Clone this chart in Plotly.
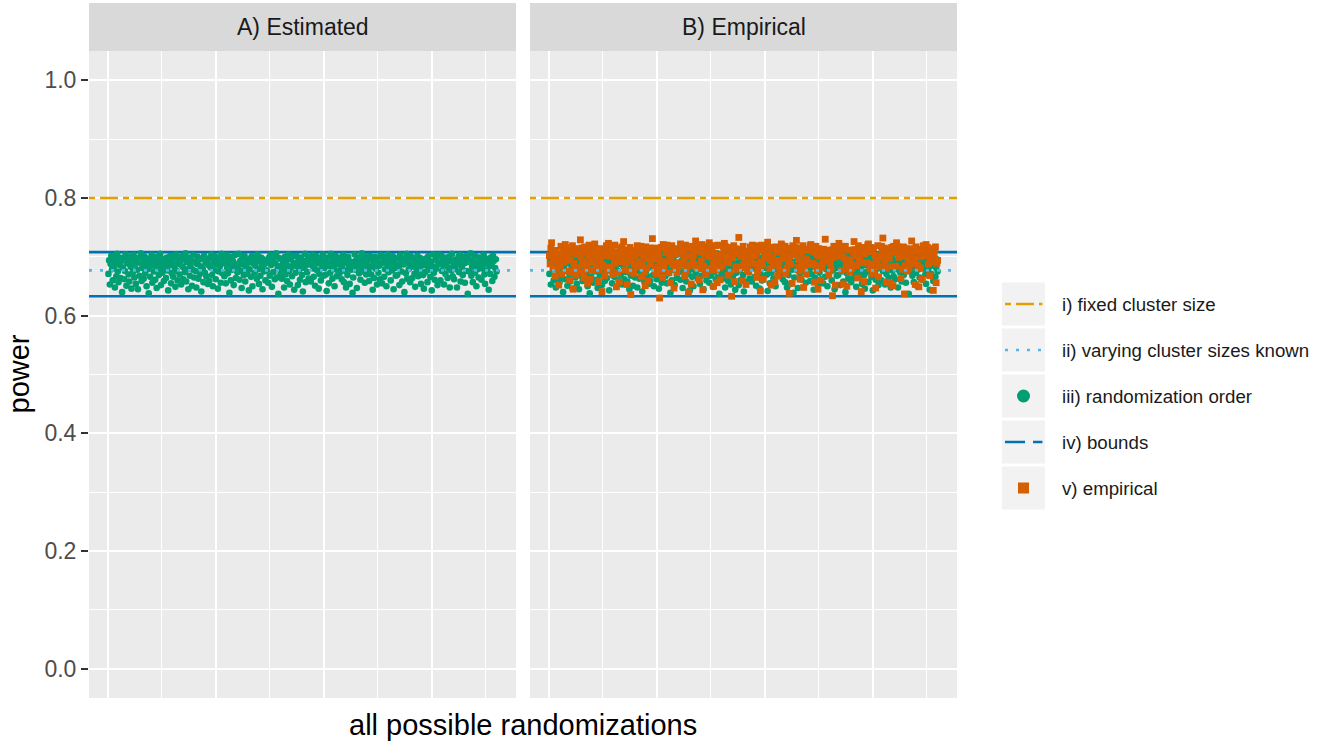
import plotly.graph_objects as go

W, H = 1332, 744

# ------------------------------------------------------------------ data
# estimated power for each possible randomization
estimated_power = [
    0.671,0.694,0.653,0.688,0.702,0.679,0.660,0.697,0.684,0.648,0.691,0.667,0.705,0.675,0.657,0.699,0.686,0.664,0.693,0.640,
    0.682,0.699,0.662,0.676,0.704,0.651,0.689,0.695,0.670,0.658,0.700,0.683,0.646,0.692,0.674,0.703,0.665,0.687,0.654,0.696,
    0.678,0.645,0.698,0.668,0.690,0.706,0.659,0.681,0.694,0.663,0.701,0.672,0.687,0.650,0.697,0.679,0.638,0.693,0.666,0.685,
    0.703,0.656,0.689,0.675,0.697,0.661,0.684,0.647,0.700,0.692,0.669,0.680,0.705,0.652,0.688,0.673,0.696,0.659,0.682,0.691,
    0.664,0.699,0.677,0.643,0.694,0.686,0.702,0.655,0.672,0.690,0.666,0.698,0.681,0.649,0.704,0.676,0.660,0.689,0.695,0.670,
    0.687,0.653,0.701,0.683,0.662,0.696,0.674,0.706,0.658,0.691,0.679,0.645,0.699,0.668,0.685,0.693,0.651,0.678,0.703,0.665,
    0.692,0.676,0.648,0.688,0.700,0.663,0.695,0.671,0.684,0.641,0.697,0.680,0.657,0.702,0.673,0.690,0.667,0.694,0.654,0.686,
    0.659,0.698,0.682,0.704,0.669,0.650,0.691,0.677,0.701,0.662,0.687,0.694,0.646,0.675,0.699,0.684,0.656,0.705,0.672,0.690,
    0.697,0.667,0.689,0.655,0.703,0.681,0.672,0.696,0.639,0.686,0.660,0.700,0.678,0.693,0.652,0.688,0.703,0.664,0.683,0.674,
    0.684,0.705,0.661,0.693,0.676,0.647,0.698,0.687,0.669,0.702,0.658,0.681,0.695,0.671,0.690,0.643,0.679,0.697,0.666,0.701,
    0.650,0.689,0.700,0.673,0.685,0.695,0.663,0.704,0.679,0.654,0.692,0.668,0.699,0.683,0.645,0.696,0.675,0.688,0.660,0.694,
    0.677,0.691,0.656,0.699,0.668,0.703,0.686,0.649,0.694,0.674,0.701,0.662,0.689,0.706,0.665,0.680,0.637,0.698,0.684,0.671,
    0.696,0.663,0.687,0.679,0.648,0.700,0.670,0.692,0.659,0.685,0.704,0.676,0.653,0.697,0.682,0.667,0.701,0.690,0.644,0.688,
    0.673,0.702,0.684,0.652,0.695,0.678,0.661,0.699,0.688,0.669,0.641,0.693,0.681,0.705,0.657,0.686,0.674,0.697,0.663,0.700,
    0.690,0.658,0.697,0.685,0.703,0.666,0.680,0.651,0.694,0.701,0.677,0.689,0.646,0.671,0.698,0.660,0.692,0.683,0.704,0.668,
    0.681,0.694,0.670,0.642,0.688,0.699,0.655,0.684,0.673,0.705,0.690,0.663,0.696,0.679,0.650,0.702,0.687,0.667,0.693,0.676,
    0.699,0.672,0.686,0.697,0.662,0.680,0.703,0.657,0.690,0.676,0.648,0.695,0.669,0.700,0.684,0.654,0.692,0.678,0.688,0.639,
    0.665,0.688,0.704,0.678,0.694,0.647,0.686,0.699,0.672,0.691,0.661,0.682,0.706,0.675,0.696,0.689,0.656,0.701,0.670,0.684,
    0.693,0.677,0.659,0.702,0.683,0.670,0.696,0.644,0.687,0.664,0.700,0.680,0.692,0.653,0.698,0.673,0.685,0.662,0.703,0.689,
    0.655,0.700,0.691,0.666,0.679,0.695,0.650,0.688,0.704,0.674,0.683,0.697,0.660,0.690,0.677,0.701,0.645,0.694,0.681,0.668,
    0.686,0.669,0.698,0.682,0.652,0.703,0.691,0.675,0.658,0.697,0.687,0.640,0.694,0.672,0.705,0.663,0.689,0.679,0.699,0.657,
    0.701,0.683,0.664,0.696,0.688,0.671,0.649,0.692,0.680,0.702,0.667,0.690,0.677,0.698,0.654,0.685,0.695,0.669,0.646,0.693,
    0.674,0.697,0.685,0.657,0.701,0.678,0.693,0.666,0.690,0.643,0.684,0.704,0.673,0.661,0.695,0.680,0.699,0.652,0.687,0.703,
    0.689,0.660,0.702,0.676,0.694,0.685,0.653,0.699,0.671,0.688,0.697,0.664,0.681,0.700,0.648,0.692,0.677,0.705,0.667,0.683,
    0.662,0.695,0.679,0.690,0.648,0.687,0.700,0.674,0.703,0.658,0.693,0.683,0.669,0.696,0.689,0.656,0.701,0.676,0.691,0.637,
    0.698,0.675,0.692,0.706,0.668,0.683,0.657,0.696,0.686,0.673,0.701,0.650,0.690,0.679,0.665,0.699,0.684,0.694,0.661,0.688,
    0.680,0.703,0.670,0.654,0.697,0.689,0.676,0.692,0.644,0.684,0.671,0.699,0.687,0.659,0.702,0.693,0.666,0.681,0.696,0.675,
]

# empirical power for each randomization
empirical_power = [
    0.702,0.688,0.715,0.724,0.709,0.681,0.697,0.693,0.667,0.711,0.679,0.700,0.690,0.652,0.705,0.684,0.718,0.671,0.696,0.707,
    0.691,0.713,0.721,0.716,0.703,0.698,0.676,0.710,0.660,0.694,0.706,0.673,0.719,0.645,0.689,0.712,0.683,0.669,0.704,0.714,
    0.708,0.680,0.712,0.729,0.700,0.715,0.692,0.674,0.664,0.717,0.687,0.709,0.679,0.655,0.701,0.720,0.690,0.662,0.711,0.677,
    0.716,0.695,0.706,0.722,0.713,0.684,0.703,0.699,0.658,0.678,0.714,0.694,0.707,0.641,0.686,0.710,0.702,0.668,0.683,0.719,
    0.679,0.707,0.723,0.718,0.710,0.701,0.682,0.716,0.670,0.703,0.689,0.720,0.695,0.649,0.708,0.673,0.699,0.657,0.715,0.692,
    0.699,0.717,0.709,0.726,0.704,0.678,0.712,0.690,0.653,0.707,0.698,0.676,0.716,0.636,0.693,0.705,0.711,0.672,0.688,0.701,
    0.710,0.683,0.719,0.715,0.712,0.706,0.691,0.718,0.666,0.685,0.713,0.702,0.674,0.651,0.717,0.681,0.697,0.659,0.709,0.715,
    0.688,0.704,0.714,0.731,0.701,0.696,0.715,0.677,0.671,0.712,0.682,0.708,0.700,0.630,0.691,0.716,0.678,0.665,0.721,0.685,
    0.718,0.692,0.707,0.720,0.716,0.709,0.673,0.703,0.656,0.695,0.719,0.687,0.710,0.647,0.704,0.680,0.714,0.673,0.690,0.708,
    0.683,0.712,0.722,0.717,0.705,0.689,0.707,0.696,0.668,0.720,0.676,0.715,0.684,0.640,0.713,0.701,0.687,0.654,0.718,0.697,
    0.703,0.686,0.710,0.727,0.714,0.716,0.681,0.711,0.661,0.680,0.708,0.693,0.721,0.644,0.684,0.718,0.705,0.670,0.679,0.712,
    0.714,0.701,0.724,0.719,0.700,0.677,0.709,0.688,0.650,0.706,0.697,0.719,0.678,0.656,0.720,0.690,0.682,0.661,0.703,0.699,
    0.685,0.719,0.713,0.723,0.718,0.702,0.694,0.715,0.669,0.690,0.716,0.674,0.707,0.633,0.698,0.711,0.719,0.658,0.714,0.683,
    0.706,0.679,0.709,0.733,0.706,0.713,0.700,0.682,0.659,0.718,0.687,0.702,0.696,0.653,0.709,0.678,0.701,0.675,0.689,0.717,
    0.697,0.711,0.720,0.716,0.702,0.688,0.717,0.705,0.665,0.676,0.712,0.719,0.683,0.642,0.692,0.720,0.686,0.662,0.710,0.700,
    0.719,0.698,0.711,0.725,0.715,0.707,0.680,0.694,0.652,0.714,0.700,0.686,0.716,0.657,0.717,0.694,0.708,0.668,0.684,0.691,
    0.677,0.709,0.722,0.719,0.703,0.697,0.712,0.718,0.672,0.700,0.681,0.713,0.692,0.638,0.702,0.688,0.715,0.655,0.719,0.706,
    0.704,0.716,0.714,0.728,0.711,0.682,0.695,0.676,0.662,0.715,0.706,0.691,0.719,0.648,0.680,0.713,0.697,0.671,0.693,0.712,
    0.711,0.687,0.719,0.721,0.717,0.714,0.689,0.708,0.657,0.686,0.718,0.703,0.677,0.645,0.714,0.701,0.684,0.660,0.707,0.682,
    0.692,0.713,0.708,0.730,0.700,0.693,0.711,0.699,0.669,0.710,0.690,0.679,0.712,0.634,0.699,0.718,0.705,0.652,0.716,0.704,
    0.717,0.701,0.723,0.717,0.712,0.705,0.677,0.716,0.654,0.698,0.713,0.718,0.689,0.650,0.688,0.680,0.711,0.674,0.695,0.687,
    0.681,0.708,0.712,0.726,0.707,0.712,0.702,0.685,0.664,0.719,0.694,0.700,0.714,0.641,0.716,0.709,0.690,0.658,0.705,0.715,
    0.709,0.690,0.720,0.722,0.714,0.680,0.716,0.709,0.671,0.688,0.715,0.677,0.703,0.647,0.693,0.694,0.719,0.666,0.683,0.699,
    0.700,0.718,0.710,0.732,0.704,0.715,0.692,0.681,0.657,0.713,0.703,0.709,0.697,0.655,0.711,0.716,0.684,0.651,0.718,0.708,
    0.715,0.684,0.724,0.718,0.716,0.699,0.707,0.713,0.663,0.701,0.679,0.717,0.716,0.637,0.685,0.703,0.714,0.676,0.697,0.680,
    0.686,0.705,0.713,0.727,0.709,0.690,0.714,0.696,0.653,0.717,0.708,0.687,0.682,0.649,0.713,0.681,0.700,0.662,0.712,0.719,
    0.703,0.715,0.709,0.721,0.702,0.716,0.688,0.703,0.668,0.692,0.698,0.714,0.709,0.643,0.704,0.712,0.717,0.656,0.689,0.694,
]

randomization_id = list(range(1, len(estimated_power) + 1))

fixed_cluster_power = 0.800     # i)
varying_known_power = 0.677     # ii)
bound_lower = 0.633             # iv)
bound_upper = 0.708             # iv)

panel_titles = ["A) Estimated", "B) Empirical"]
legend_labels = ["i) fixed cluster size", "ii) varying cluster sizes known",
                 "iii) randomization order", "iv) bounds", "v) empirical"]
y_tick_values = [0.0, 0.2, 0.4, 0.6, 0.8, 1.0]
y_tick_labels = ["0.0", "0.2", "0.4", "0.6", "0.8", "1.0"]
y_minor_values = [0.1, 0.3, 0.5, 0.7, 0.9]
x_major_values = [0, 150, 300, 450]
x_minor_values = [75, 225, 375, 525]
x_title = "all possible randomizations"
y_title = "power"

# ------------------------------------------------------------------ style
C_FIXED = "#E69F00"
C_VARY = "#56B4E9"
C_EST = "#009E73"
C_BOUND = "#0072B2"
C_EMP = "#D55E00"
FONT = "Liberation Sans, Arial, Helvetica, sans-serif"
PANEL_BG = "#EBEBEB"
STRIP_BG = "#D9D9D9"

def px_x(p):
    return p / W

def px_y(p):
    return 1 - p / H

panel_x = [(89, 516), (530, 957)]
panel_top, panel_bot = 51, 698
strip_top = 3

span = randomization_id[-1] - randomization_id[0]
x_range = [randomization_id[0] - 0.05 * span, randomization_id[-1] + 0.05 * span]
y_range = [-0.05, 1.05]

fig = go.Figure()

shapes = []
annotations = []
for i, (x0, x1) in enumerate(panel_x):
    xa = "x" if i == 0 else "x2"
    ya = "y" if i == 0 else "y2"
    # bounds (drawn under the points)
    for val in (bound_lower, bound_upper):
        fig.add_trace(go.Scatter(x=x_range, y=[val, val], mode="lines",
                                 line=dict(color=C_BOUND, width=2.6),
                                 xaxis=xa, yaxis=ya, showlegend=False, hoverinfo="skip"))
    # estimated power points
    fig.add_trace(go.Scatter(
        x=randomization_id, y=estimated_power, mode="markers",
        marker=dict(symbol="circle", size=6.6, color=C_EST, line=dict(width=0)),
        xaxis=xa, yaxis=ya, showlegend=False, hoverinfo="skip"))
    if i == 1:
        fig.add_trace(go.Scatter(
            x=randomization_id, y=empirical_power, mode="markers",
            marker=dict(symbol="square", size=6.8, color=C_EMP, line=dict(width=0)),
            xaxis=xa, yaxis=ya, showlegend=False, hoverinfo="skip"))
    # panel background
    shapes.append(dict(type="rect", xref=f"{xa} domain", yref=f"{ya} domain",
                       x0=0, x1=1, y0=0, y1=1, fillcolor=PANEL_BG,
                       line=dict(width=0), layer="below"))
    # strip
    shapes.append(dict(type="rect", xref="paper", yref="paper",
                       x0=px_x(x0), x1=px_x(x1), y0=px_y(panel_top), y1=px_y(strip_top),
                       fillcolor=STRIP_BG, line=dict(width=0), layer="below"))
    annotations.append(dict(text=panel_titles[i], xref="paper", yref="paper",
                            x=px_x((x0 + x1) / 2), y=px_y((strip_top + panel_top) / 2),
                            xanchor="center", yanchor="middle", showarrow=False,
                            font=dict(family=FONT, size=23, color="#1A1A1A")))
    # reference lines above the points
    shapes.append(dict(type="line", xref=f"{xa} domain", yref=ya, x0=0, x1=1,
                       y0=varying_known_power, y1=varying_known_power,
                       line=dict(color=C_VARY, width=2.6, dash="3px,8px"), layer="above"))
    shapes.append(dict(type="line", xref=f"{xa} domain", yref=ya, x0=0, x1=1,
                       y0=fixed_cluster_power, y1=fixed_cluster_power,
                       line=dict(color=C_FIXED, width=2.6, dash="6px,5px,18px,5px"),
                       layer="above"))

# ---------------------------------------------------------------- legend
leg_top, leg_row = 281, 46
n_leg = len(legend_labels)
leg_styles = [
    dict(mode="lines", line=dict(color=C_FIXED, width=2.6, dash="6px,5px,18px,5px")),
    dict(mode="lines", line=dict(color=C_VARY, width=2.6, dash="3px,8px")),
    dict(mode="markers", marker=dict(symbol="circle", size=13, color=C_EST)),
    dict(mode="lines", line=dict(color=C_BOUND, width=2.6, dash="20px,8px")),
    dict(mode="markers", marker=dict(symbol="square", size=11, color=C_EMP)),
]
for i, lab in enumerate(legend_labels):
    st = leg_styles[i]
    if st["mode"] == "lines":
        xs, ys = [0.07, 0.94], [i, i]
    else:
        xs, ys = [0.5], [i]
    fig.add_trace(go.Scatter(x=xs, y=ys, xaxis="x3", yaxis="y3", showlegend=False,
                             hoverinfo="skip", cliponaxis=False, **st))
    shapes.append(dict(type="rect", xref="x3", yref="y3", x0=0, x1=1,
                       y0=i - 0.467, y1=i + 0.467, fillcolor="#F2F2F2",
                       line=dict(width=0), layer="below"))
    annotations.append(dict(text=lab, xref="paper", yref="y3", x=px_x(1060), y=i,
                            xanchor="left", yanchor="middle", showarrow=False,
                            font=dict(family=FONT, size=18.7, color="#1A1A1A")))

# axis titles
annotations.append(dict(text=x_title, xref="paper", yref="paper",
                        x=px_x((panel_x[0][0] + panel_x[1][1]) / 2), y=px_y(725),
                        xanchor="center", yanchor="middle", showarrow=False,
                        font=dict(family=FONT, size=29, color="#000000")))
annotations.append(dict(text=y_title, xref="paper", yref="paper",
                        x=px_x(18), y=px_y((panel_top + panel_bot) / 2), textangle=-90,
                        xanchor="center", yanchor="middle", showarrow=False,
                        font=dict(family=FONT, size=29, color="#000000")))

xaxis_common = dict(range=x_range, tickmode="array", tickvals=x_major_values,
                    showticklabels=False, ticks="", showgrid=True, gridcolor="white",
                    gridwidth=2.4, zeroline=False, showline=False,
                    minor=dict(tickmode="array", tickvals=x_minor_values, showgrid=True,
                               gridcolor="white", gridwidth=1.2, ticks=""))
yaxis_common = dict(range=y_range, tickmode="array", tickvals=y_tick_values,
                    ticktext=y_tick_labels, showgrid=True, gridcolor="white",
                    gridwidth=2.4, zeroline=False, showline=False,
                    domain=[px_y(panel_bot), px_y(panel_top)],
                    minor=dict(tickmode="array", tickvals=y_minor_values, showgrid=True,
                               gridcolor="white", gridwidth=1.2, ticks=""))

fig.update_layout(
    width=W, height=H, margin=dict(l=0, r=0, t=0, b=0),
    paper_bgcolor="white", plot_bgcolor="white", showlegend=False,
    xaxis=dict(domain=[px_x(panel_x[0][0]), px_x(panel_x[0][1])], anchor="y", **xaxis_common),
    xaxis2=dict(domain=[px_x(panel_x[1][0]), px_x(panel_x[1][1])], anchor="y2", **xaxis_common),
    yaxis=dict(anchor="x", ticks="outside", ticklen=7, tickwidth=2, tickcolor="#333333",
               tickfont=dict(family=FONT, size=23, color="#4D4D4D"), **yaxis_common),
    yaxis2=dict(anchor="x2", showticklabels=False, ticks="", **yaxis_common),
    xaxis3=dict(domain=[px_x(1002), px_x(1045)], range=[0, 1], anchor="y3",
                visible=False, fixedrange=True),
    yaxis3=dict(domain=[px_y(leg_top + leg_row * n_leg), px_y(leg_top)],
                range=[n_leg - 0.5, -0.5], anchor="x3", visible=False, fixedrange=True),
    shapes=shapes, annotations=annotations,
    font=dict(family=FONT),
)

fig.write_html("out.html", config={"displayModeBar": False},
               post_script="document.body.style.margin='0px';document.body.style.padding='0px';")
